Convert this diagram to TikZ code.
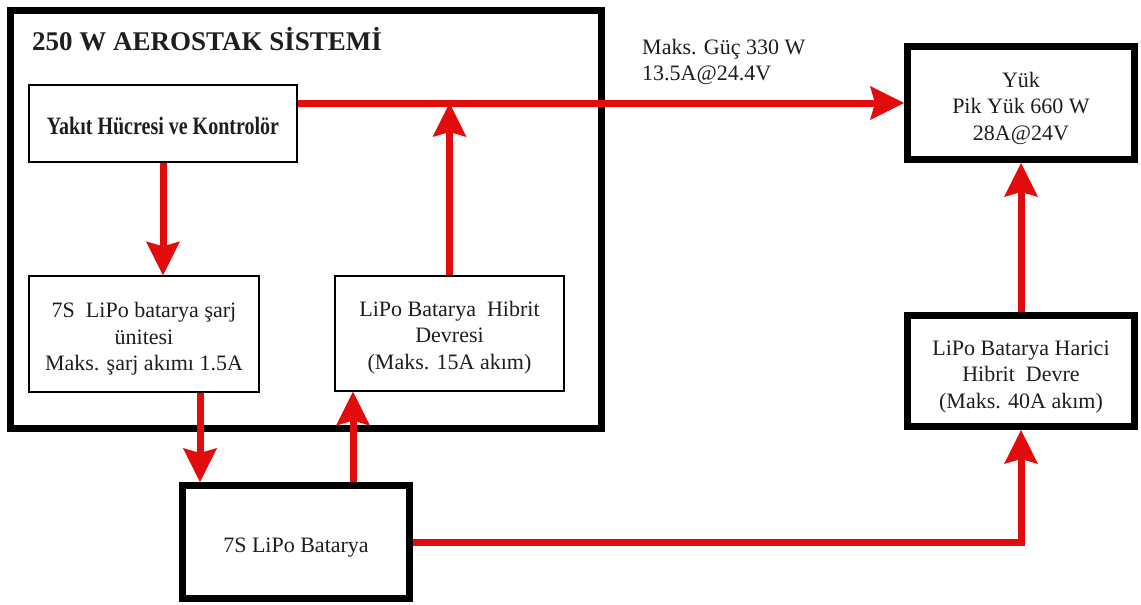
\documentclass[tikz,border=0pt]{standalone}
\usepackage{fontspec}
\usepackage{graphicx}
\setmainfont{Liberation Serif}
\usetikzlibrary{arrows.meta,calc}
\definecolor{flowred}{RGB}{226,12,12}
\definecolor{inkgray}{RGB}{30,30,30}
\tikzset{
  thinbox/.style={draw=black, line width=1.3pt, fill=white, inner sep=0pt},
  thickbox/.style={draw=black, line width=7pt, fill=white, inner sep=0pt},
  boxtext/.style={inner sep=0pt, align=center, text=inkgray, font=\fontsize{22}{26.5}\selectfont},
  flow/.style={draw=flowred, line width=7pt,
    -{Stealth[length=34pt,width=34pt,inset=5pt,line width=0pt]}},
  lbl/.style={inner sep=0pt, align=left, text=inkgray, font=\fontsize{22}{26.5}\selectfont}
}
\begin{document}
\begin{tikzpicture}[x=1pt,y=-1pt]
\fill[white] (0,0) rectangle (1141,605);
\useasboundingbox (0,0) rectangle (1141,605);
% outer system box
\node[draw=black, line width=7pt, inner sep=0pt, minimum width=591pt, minimum height=418pt] (aero) at (305.5,219) {};
\node[inner sep=0pt, anchor=west, font=\fontsize{27}{31}\selectfont\bfseries, text=inkgray] (title) at (32,39) {250 W AEROSTAK SİSTEMİ};
% inner boxes
\node[thinbox, minimum width=268pt, minimum height=77pt,
  label={[boxtext, name=yakittxt, yshift=-2pt]center:{\scalebox{0.8}[1]{\fontsize{25}{30}\selectfont\bfseries Yakıt Hücresi ve Kontrolör}}}] (yakit) at (163,123.5) {};
\node[thinbox, minimum width=230pt, minimum height=116pt,
  label={[boxtext, name=sarjtxt, yshift=-5pt]center:{7S~ LiPo batarya şarj\\ünitesi\\Maks. şarj akımı 1.5A}}] (sarj) at (144,334) {};
\node[thinbox, minimum width=229pt, minimum height=115pt,
  label={[boxtext, name=hibrittxt, yshift=-4pt]center:{LiPo Batarya~ Hibrit\\Devresi\\(Maks. 15A akım)}}] (hibrit) at (449.5,333.5) {};
% outside boxes
\node[thickbox, minimum width=227pt, minimum height=113pt,
  label={[boxtext, name=yuktxt, yshift=-5pt]center:{Yük\\Pik Yük 660 W\\28A@24V}}] (yuk) at (1021,103) {};
\node[thickbox, minimum width=227pt, minimum height=111pt,
  label={[boxtext, name=haricitxt, yshift=-6pt]center:{LiPo Batarya Harici\\Hibrit~ Devre\\(Maks. 40A akım)}}] (harici) at (1021,371) {};
\node[thickbox, minimum width=227pt, minimum height=113pt,
  label={[boxtext, name=battxt, yshift=-6pt]center:{7S LiPo Batarya}}] (bat) at (296,542) {};
% label
\node[lbl, anchor=west] (guc) at (642,62) {Maks. Güç 330 W\\13.5A@24.4V};
% connectors
\coordinate (sarjout) at ($(sarj.south)+(56,0)$);
\coordinate (batout) at ($(bat.north)+(57,0)$);
\draw[flow] (yakit.east |- yuk.west) -- (yuk.west);
\draw[flow] (yakit.south) -- (yakit.south |- sarj.north);
\draw[flow] (sarjout) -- (sarjout |- bat.north);
\draw[flow] (batout) -- (batout |- hibrit.south);
\draw[flow] (hibrit.north) -- (hibrit.north |- yuk.west);
\draw[flow] (bat.east) -- (bat.east -| harici.south) -- (harici.south);
\draw[flow] (harici.north) -- (yuk.south);
\end{tikzpicture}
\end{document}
